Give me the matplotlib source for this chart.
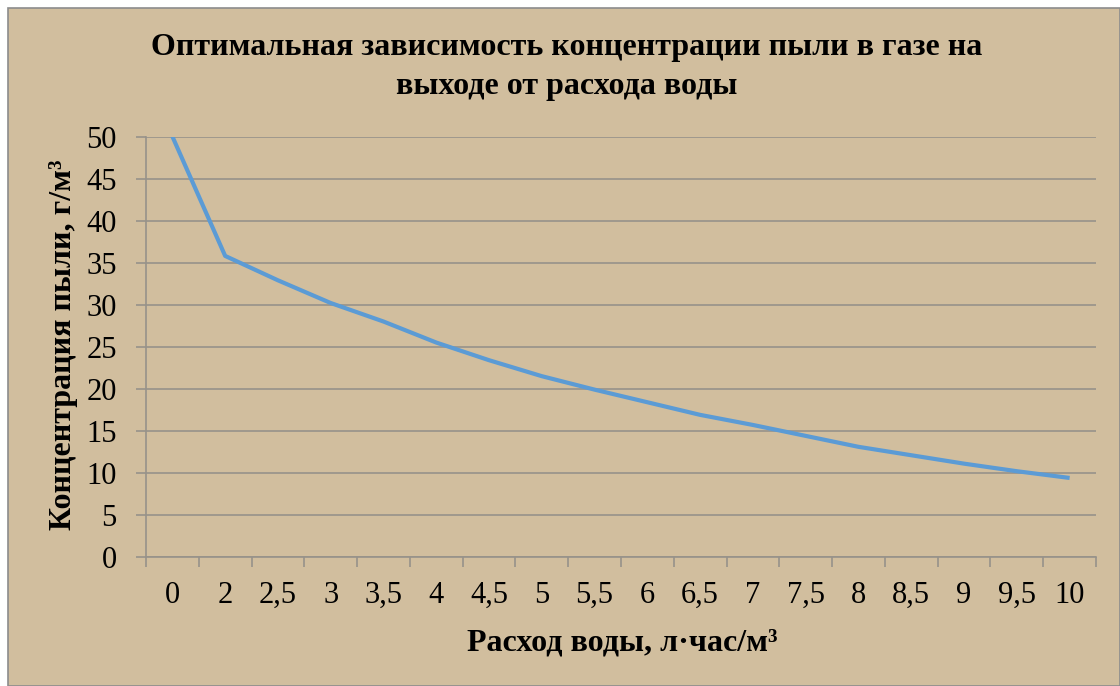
import matplotlib.pyplot as plt
from matplotlib.patches import Rectangle
import numpy as np

plt.rcParams['font.family'] = ['Liberation Serif', 'DejaVu Serif']

rashod = ['0', '2', '2,5', '3', '3,5', '4', '4,5', '5', '5,5', '6',
          '6,5', '7', '7,5', '8', '8,5', '9', '9,5', '10']
konc = [50.0, 35.8, 32.9, 30.2, 28.0, 25.5, 23.4, 21.5, 19.9, 18.4,
        16.9, 15.7, 14.4, 13.1, 12.1, 11.1, 10.2, 9.4]

fon = '#D1BE9E'
setka = '#97928A'

fig = plt.figure(figsize=(11.2, 6.86), dpi=100, facecolor='white')
fig.patches.append(Rectangle((8/1120, 0), 1 - 8/1120, 1 - 8/686,
                             transform=fig.transFigure, facecolor=fon,
                             edgecolor='#8C8C8C', linewidth=1.2, zorder=-5))

ax = fig.add_axes([146/1120, 1 - 557/686, 950/1120, 420.5/686])
ax.set_facecolor(fon)

x = np.arange(len(rashod))
ax.plot(x, konc, color='#5B9BD5', linewidth=3, solid_capstyle='butt',
        solid_joinstyle='round', zorder=3)

ax.set_xlim(-0.5, len(rashod) - 0.5)
ax.set_ylim(0, 50)
ax.set_yticks(np.arange(0, 51, 5))
ax.grid(axis='y', color=setka, linewidth=1.2)
ax.set_axisbelow(True)

# деления по границам категорий, подписи по центрам
ax.set_xticks(np.arange(-0.5, len(rashod)), labels=[])
ax.set_xticks(x, labels=rashod, minor=True)
ax.tick_params(axis='x', which='major', length=7, width=1.2, color=setka)
ax.tick_params(axis='x', which='minor', length=0, pad=17, labelsize=22)
ax.tick_params(axis='y', length=7, width=1.2, color=setka, pad=14, labelsize=22)

for side in ['top', 'right']:
    ax.spines[side].set_visible(False)
for side in ['left', 'bottom']:
    ax.spines[side].set_color(setka)
    ax.spines[side].set_linewidth(1.2)

fig.text(567/1120, 1 - 67/686,
         'Оптимальная зависимость концентрации пыли в газе на\nвыходе от расхода воды',
         ha='center', va='center', fontsize=23, fontweight='bold', linespacing=1.42)
fig.text(622/1120, 1 - 643/686, 'Расход воды, л·час/м³',
         ha='center', va='center', fontsize=23, fontweight='bold')
fig.text(64/1120, 1 - 345/686, 'Концентрация пыли, г/м³',
         ha='center', va='center', rotation=90, fontsize=23, fontweight='bold')

fig.savefig('out.png', dpi=100, facecolor=fig.get_facecolor())
